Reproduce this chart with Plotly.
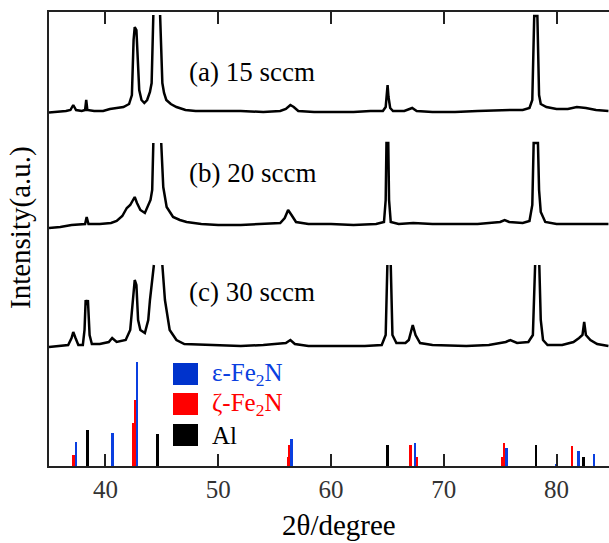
import plotly.graph_objects as go

# ---------------- data ----------------
# XRD curves: (2theta, relative intensity above own baseline); None = clipped top
curve_a = [(35.0,-0.5),(35.8,0),(36.5,1),(36.9,2),(37.15,7),(37.4,2),(37.9,1),(38.2,2),(38.3,12),(38.4,2),
           (39.0,1),(39.8,1),(40.4,3),(41.0,4),(41.6,5),(42.1,8),(42.35,17),(42.5,72),(42.6,85),(42.75,82),
           (42.85,52),(43.0,22),(43.2,12),(43.45,9),(43.7,12),(43.95,20),(44.1,29),(44.2,62),(44.25,97),(None,None),
           (44.85,97),(44.95,62),(45.05,29),(45.2,19),(45.4,12),(45.8,8),(46.3,5),(47.1,2),(48.0,1),(50.0,1),
           (52.0,1),(54.0,0),(55.5,1),(56.0,3),(56.4,7),(56.7,5),(57.1,1),(58.5,0),(60,0),(62,0),(63.5,1),
           (64.6,1),(64.85,5),(64.95,17),(65.02,27),(65.1,15),(65.25,4),(65.5,1),(66.5,1),(67.2,4),(67.6,1),
           (69,0),(71,0),(73,1),(75,2),(76,2),(77,2),(77.6,4),(77.85,12),(77.95,52),(78.02,96),(78.3,96),
           (78.35,52),(78.45,17),(78.6,8),(79.1,5),(80,3),(81,3),(81.8,5),(82.6,4),(83.5,2),(84.6,1)]
curve_b = [(35.0,-4),(36.0,-3),(37.0,-1),(38.2,0),(38.34,7),(38.5,0),(39.5,0),(40.5,1),(41.0,3),(41.5,8),
           (41.9,16),(42.2,19),(42.45,24),(42.6,27),(42.8,21),(43.1,14),(43.5,11),(43.8,18),(44.0,24),(44.15,34),
           (44.25,81),(None,None),(44.95,81),(45.05,54),(45.13,37),(45.43,17),(46.0,7),(46.6,4),(47.2,2),(48.5,0),
           (50,-1),(52,-1),(54,0),(55.5,1),(55.9,6),(56.2,14),(56.5,9),(56.9,2),(58,0),(60,0),(62,-1),(64,0),
           (64.7,2),(64.85,24),(64.92,81),(65.08,81),(65.15,24),(65.3,2),(66,0),(67.3,1),(69,0),(71,0),(73,0),
           (75,2),(75.4,4),(75.8,2),(77,1),(77.6,3),(77.85,19),(77.97,81),(78.35,81),(78.45,34),(78.6,12),
           (79.0,2),(80,0),(82,0),(84.6,0)]
curve_c = [(35.0,-1),(36.0,0),(36.7,1),(37.0,8),(37.15,14),(37.35,8),(37.6,1),(38.0,1),(38.15,16),(38.25,46),
           (38.35,41),(38.45,46),(38.6,11),(38.8,2),(39.5,2),(40.3,4),(40.6,8),(41.0,4),(41.8,6),(42.2,16),
           (42.45,46),(42.6,66),(42.75,61),(42.9,26),(43.1,16),(43.5,13),(43.8,26),(43.95,46),(44.3,81),(None,None),
           (45.05,81),(45.28,46),(45.7,16),(46.3,6),(47,2),(49,1),(52,0),(54,1),(56.0,3),(56.4,6),(56.8,2),
           (58,0),(61,0),(63,0),(64.5,1),(64.85,11),(65.0,81),(None,None),(65.3,81),(65.45,11),(65.8,3),
           (66.6,3),(66.9,6),(67.25,21),(67.5,11),(67.9,3),(69,1),(72,0),(74,1),(75.5,4),(75.9,6),(76.5,3),
           (77.5,4),(77.9,11),(78.1,81),(None,None),(78.47,81),(78.6,26),(78.8,6),(79.2,1),(80.5,1),(81.5,4),
           (82.0,8),(82.3,11),(82.45,24),(82.6,11),(83.0,6),(83.6,2),(84.6,0)]
curve_offsets = [354, 242, 120]
curve_labels = ["(a) 15 sccm", "(b) 20 sccm", "(c) 30 sccm"]

# Reference patterns (stick positions, relative heights)
eps_pos = [37.4, 40.64, 42.8, 56.48, 67.46, 75.58, 79.95, 81.93, 83.33]
eps_h   = [24, 33, 104, 27, 23, 18, 2, 15, 12]
zeta_pos = [37.2, 42.46, 42.64, 56.2, 56.3, 67.08, 67.63, 75.2, 75.35, 81.38]
zeta_h   = [11, 43, 66, 9, 21, 21, 9, 9, 23, 20]
al_pos = [38.44, 44.6, 65.0, 78.17, 82.4]
al_h   = [36, 32, 21, 21, 9]

x_ticks = [40, 50, 60, 70, 80]

# ---------------- styling ----------------
SERIF = '"Liberation Serif", "Times New Roman", Times, serif'
BLUE = "#0a3fe0"
RED = "#ff0000"
BLACK = "#000000"
W, H = 609, 543
L, R, T, B = 49, 0, 12, 77

def px(xpix):
    return (xpix - L) / (W - L - R)

def py(ypix):
    return (H - B - ypix) / (H - T - B)

fig = go.Figure()

for pts, off in zip([curve_a, curve_b, curve_c], curve_offsets):
    xs = [p[0] for p in pts]
    ys = [None if p[1] is None else p[1] + off for p in pts]
    fig.add_trace(go.Scatter(x=xs, y=ys, mode="lines", connectgaps=False,
                             line=dict(color=BLACK, width=2.5), showlegend=False, hoverinfo="skip"))

for pos, h, col in [(zeta_pos, zeta_h, RED), (eps_pos, eps_h, BLUE), (al_pos, al_h, BLACK)]:
    fig.add_trace(go.Bar(x=pos, y=h, width=0.24, marker=dict(color=col, line=dict(width=0)),
                         showlegend=False, hoverinfo="skip"))

annotations = []
label_y = [72, 173, 292]
for lab, yy in zip(curve_labels, label_y):
    annotations.append(dict(x=px(252), y=py(yy), xref="paper", yref="paper", text=lab,
                            showarrow=False, xanchor="center", yanchor="middle",
                            font=dict(family=SERIF, size=27, color=BLACK)))

# custom legend
legend_items = [("ε-Fe<sub>2</sub>N", BLUE, "#0033cc", 363), ("ζ-Fe<sub>2</sub>N", RED, RED, 393),
                ("Al", BLACK, BLACK, 424)]
shapes = []
for txt, tcol, scol, top in legend_items:
    shapes.append(dict(type="rect", xref="paper", yref="paper", x0=px(173), x1=px(198),
                       y0=py(top + 22), y1=py(top), fillcolor=scol, line=dict(width=0)))
    annotations.append(dict(x=px(210), y=py(top + 11), xref="paper", yref="paper", text=txt,
                            showarrow=False, xanchor="left", yanchor="middle",
                            font=dict(family=SERIF, size=25, color=tcol)))

annotations.append(dict(x=0, y=py(228), xref="paper", yref="paper", text="Intensity(a.u.)",
                        textangle=-90, showarrow=False, xanchor="center", yanchor="middle",
                        xshift=-29, font=dict(family=SERIF, size=29, color=BLACK)))
annotations.append(dict(x=px(339), y=py(525), xref="paper", yref="paper", text="2θ/degree",
                        showarrow=False, xanchor="center", yanchor="middle",
                        font=dict(family=SERIF, size=29, color=BLACK)))

fig.update_layout(
    width=W, height=H, margin=dict(l=L, r=R, t=T, b=B),
    paper_bgcolor="white", plot_bgcolor="white",
    barmode="overlay", bargap=0,
    annotations=annotations, shapes=shapes,
    xaxis=dict(range=[35, 84.65], tickvals=x_ticks, ticktext=[str(v) for v in x_ticks],
               ticks="inside", ticklen=12, tickwidth=2, tickcolor="#222",
               showline=True, linewidth=2, linecolor="#222", mirror="ticks",
               showgrid=False, zeroline=False, automargin=False,
               tickfont=dict(family=SERIF, size=25, color="#333")),
    yaxis=dict(range=[0, 454], showticklabels=False, ticks="", showline=True, linewidth=2,
               linecolor="#222", showgrid=False, zeroline=False, mirror=False, automargin=False),
)

fig.write_html("out.html")
